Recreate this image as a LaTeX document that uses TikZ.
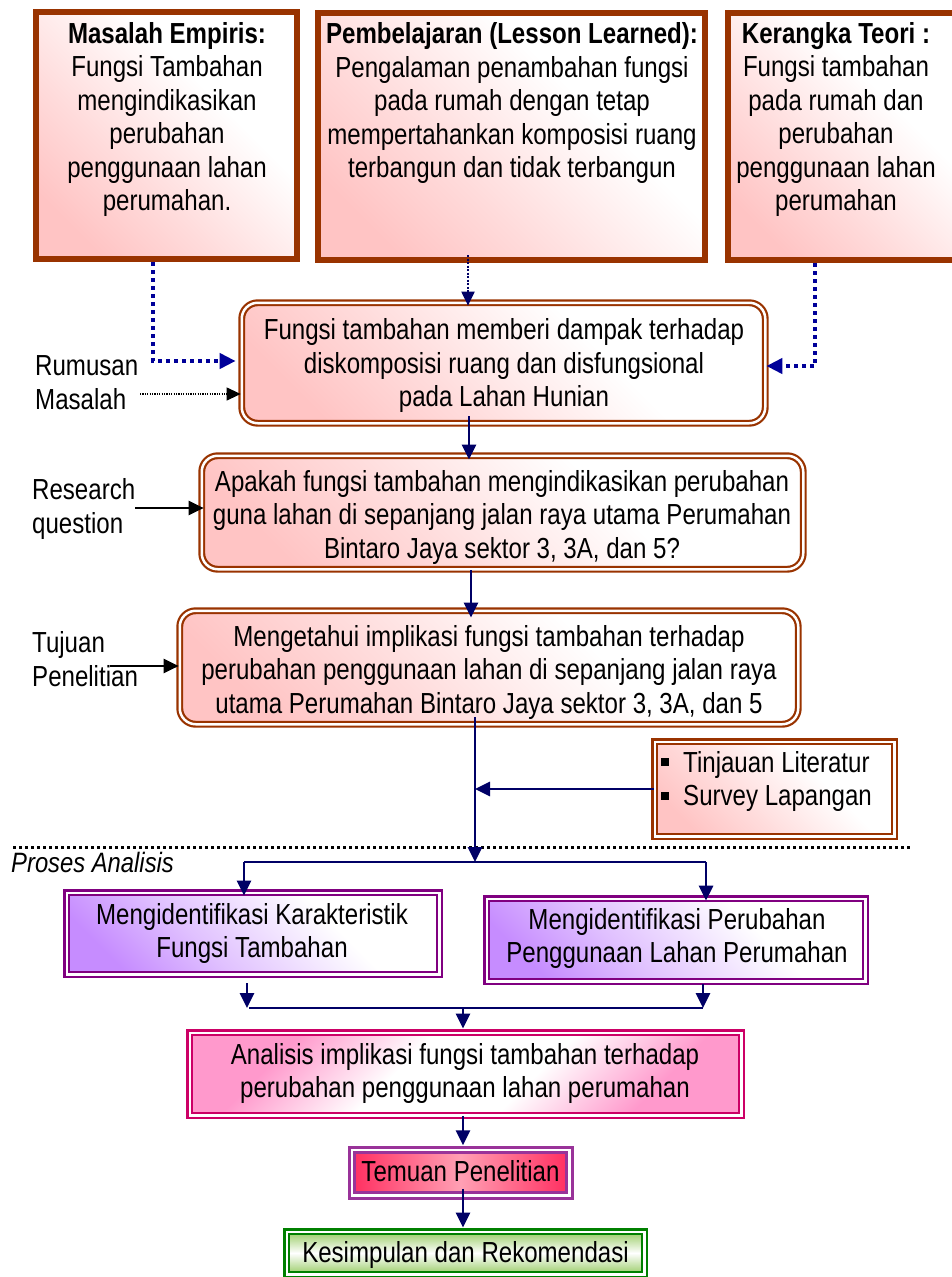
\documentclass[tikz,border=0pt]{standalone}
\usepackage{fontspec}
\setmainfont{Liberation Sans}[FakeStretch=0.83]
\newfontfamily\pafont{Liberation Sans}[FakeStretch=0.85]
\usetikzlibrary{arrows.meta}
\definecolor{brn}{HTML}{993300}
\definecolor{pinkf}{HTML}{FFC4C4}
\definecolor{navyc}{HTML}{000066}
\definecolor{blued}{HTML}{000099}
\definecolor{purp}{HTML}{800080}
\definecolor{purpf}{HTML}{C68CFF}
\definecolor{mag}{HTML}{CC0066}
\definecolor{magf}{HTML}{FF99CC}
\definecolor{tmb}{HTML}{993399}
\definecolor{tmf}{HTML}{FF2E60}
\definecolor{tmm}{HTML}{FFA0B4}
\definecolor{grn}{HTML}{008000}
\definecolor{grnf}{HTML}{99CC66}
\pgfdeclareverticalshading{pkshade}{100bp}{color(0bp)=(pinkf); color(24bp)=(pinkf); color(40bp)=(pinkf!60!white); color(62bp)=(white); color(100bp)=(white)}
\pgfdeclareverticalshading{ppshade}{100bp}{color(0bp)=(purpf); color(24bp)=(purpf); color(40bp)=(purpf!55!white); color(64bp)=(white); color(100bp)=(white)}
\pgfdeclareverticalshading{anshade}{100bp}{color(0bp)=(magf); color(27bp)=(magf); color(42bp)=(white); color(58bp)=(white); color(73bp)=(magf); color(100bp)=(magf)}
\newcommand\mfnt{\fontsize{29}{33.5}\selectfont}
\begin{document}
\begin{tikzpicture}[x=1pt,y=-1pt,
  txt/.style={align=center, font=\mfnt, inner sep=0pt},
  ltxt/.style={align=left, font=\mfnt, inner sep=0pt, anchor=west},
  topbox/.style={draw=brn, line width=6pt, inner sep=0pt, shading=pkshade, shading angle=-45},
  dbl/.style={line width=2.2pt, double=white, double distance=2.5pt, inner sep=0pt},
  rbox/.style={dbl, draw=brn, rounded corners=16pt, shading=pkshade, shading angle=-45},
  sbox/.style={dbl, draw=brn, shading=pkshade, shading angle=-45},
  pbox/.style={dbl, draw=purp, shading=ppshade, shading angle=-45},
  abox/.style={dbl, draw=mag, shading=anshade, shading angle=45},
  tbox/.style={line width=3pt, double=white, double distance=2.5pt, inner sep=0pt,
    draw=tmb, left color=tmf, right color=tmf, middle color=tmm},
  kbox/.style={dbl, draw=grn, top color=grnf, bottom color=grnf, middle color=white},
  navyarr/.style={draw=navyc, line width=2.8pt, -{Triangle[length=15pt,width=14pt]}},
  navyln/.style={draw=navyc, line width=2.8pt},
  blkarr/.style={draw=black, line width=2.2pt, -{Triangle[length=15pt,width=14pt]}},
  rumarr/.style={draw=black, line width=1.2pt, dash pattern=on 1.2pt off 1.2pt, -{Triangle[length=14pt,width=13pt]}},
  bluedot/.style={draw=blued, line width=4pt, dash pattern=on 4pt off 4pt, -{Triangle[length=16pt,width=15pt]}},
  middot/.style={draw=navyc, line width=2pt, dash pattern=on 2pt off 1.5pt, -{Triangle[length=14pt,width=13pt]}},
  sepline/.style={draw=black, line width=3pt, dash pattern=on 3pt off 3pt}
]
\useasboundingbox (0,0) rectangle (951,1277);

% ---- top boxes
\node[topbox, minimum width=261pt, minimum height=247pt] (b1) at (166.5,135.5) {};
\node[topbox, minimum width=387pt, minimum height=247pt] (b2) at (511.5,136.5) {};
\node[topbox, minimum width=232pt, minimum height=247pt] (b3) at (844,136.5) {};
\node[txt] (t1) at (167,120.5) {\strut\textbf{Masalah Empiris:}\\\strut Fungsi Tambahan\\\strut mengindikasikan\\\strut perubahan\\\strut penggunaan lahan\\\strut perumahan.};
\node[txt] (t2) at (512,104) {\strut\textbf{Pembelajaran (Lesson Learned):}\\\strut Pengalaman penambahan fungsi\\\strut pada rumah dengan tetap\\\strut mempertahankan komposisi ruang\\\strut terbangun dan tidak terbangun};
\node[txt] (t3) at (836,120.5) {\strut\textbf{Kerangka Teori :}\\\strut Fungsi tambahan\\\strut pada rumah dan\\\strut perubahan\\\strut penggunaan lahan\\\strut perumahan};

% ---- rounded boxes
\node[rbox, minimum width=523.5pt, minimum height=120.5pt] (b4) at (503.5,363) {};
\node[txt] (t4) at (504,366.5) {\strut Fungsi tambahan memberi dampak terhadap\\\strut diskomposisi ruang dan disfungsional\\\strut pada Lahan Hunian};
\node[rbox, minimum width=601.5pt, minimum height=113.5pt] (b5) at (502.5,512.5) {};
\node[txt] (t5) at (502,518) {\strut Apakah fungsi tambahan mengindikasikan perubahan\\\strut guna lahan di sepanjang jalan raya utama Perumahan\\\strut Bintaro Jaya sektor 3, 3A, dan 5?};
\node[rbox, minimum width=618.5pt, minimum height=113.5pt] (b6) at (489,667.5) {};
\node[txt] (t6) at (489,673) {\strut Mengetahui implikasi fungsi tambahan terhadap\\\strut perubahan penggunaan lahan di sepanjang jalan raya\\\strut utama Perumahan Bintaro Jaya sektor 3, 3A, dan 5};

% ---- side labels
\node[ltxt] (lrm) at (35,386) {\strut Rumusan\\\strut Masalah};
\node[ltxt] (lrq) at (32,510) {\strut Research\\\strut question};
\node[ltxt] (ltp) at (32,663) {\strut Tujuan\\\strut Penelitian};

% ---- literature box
\node[sbox, minimum width=239.5pt, minimum height=94.5pt] (tb) at (774.5,789) {};
\node[ltxt] (tt) at (661,782.5) {\strut\rule[6pt]{8pt}{8pt}\hspace{14pt}Tinjauan Literatur\\\strut\rule[6pt]{8pt}{8pt}\hspace{14pt}Survey Lapangan};

% ---- separator
\coordinate (dl) at (13,847);
\coordinate (dr) at (910,847);
\draw[sepline] (dl) -- (dr);
\node[anchor=west, inner sep=0pt, font=\pafont\itshape\fontsize{28}{32}\selectfont] (pa) at (11,866) {\strut Proses Analisis};

% ---- analysis boxes
\node[pbox, minimum width=372.5pt, minimum height=81.5pt] (b7) at (253,933.5) {};
\node[txt] (t7) at (252,934.5) {\strut Mengidentifikasi Karakteristik\\\strut Fungsi Tambahan};
\node[pbox, minimum width=378.5pt, minimum height=82.5pt] (b8) at (676,940) {};
\node[txt] (t8) at (677,939.5) {\strut Mengidentifikasi Perubahan\\\strut Penggunaan Lahan Perumahan};
\node[abox, minimum width=551.5pt, minimum height=82.5pt] (an) at (465.5,1074) {};
\node[txt] (tan) at (465,1074.5) {\strut Analisis implikasi fungsi tambahan terhadap\\\strut perubahan penggunaan lahan perumahan};
\node[tbox, minimum width=217.5pt, minimum height=45.5pt] (tm) at (460.5,1172.5) {};
\node[txt] (ttm) at (460.5,1175) {\strut Temuan Penelitian};
\node[kbox, minimum width=357.5pt, minimum height=42.5pt] (ks) at (465.5,1253) {};
\node[txt] (tks) at (465.5,1256) {\strut Kesimpulan dan Rekomendasi};

% ---- coordinates for connectors
\coordinate (k1) at (153,361);
\coordinate (k2) at (468,0);
\coordinate (k3) at (815,366);
\coordinate (c45) at (469,0);
\coordinate (c56) at (471,0);
\coordinate (rq) at (135,508);
\coordinate (tp) at (110,666);
\coordinate (rm) at (140,394);
\coordinate (sp1) at (475,862);
\coordinate (hl) at (244,862);
\coordinate (hr) at (706,862);
\coordinate (a7) at (247,0);
\coordinate (bl) at (249,1008);
\coordinate (br) at (703,1008);
\coordinate (bm) at (463,1008);

% ---- connectors
\draw[bluedot] (b1.south -| k1) |- ([xshift=-5pt]b4.west |- k1);
\draw[bluedot] (b3.south -| k3) |- (b4.east |- k3);
\draw[middot] ([yshift=8pt]b2.south -| k2) -- ([yshift=-4pt]b4.north -| k2);
\draw[rumarr] (rm) -- (rm -| b4.west);
\draw[blkarr] (rq) -- ([xshift=3pt]rq -| b5.west);
\draw[blkarr] (tp) -- (tp -| b6.west);
\draw[navyarr] ([yshift=8pt]b4.south -| c45) -- ([yshift=-5pt]b5.north -| c45);
\draw[navyarr] (b5.south -| c56) -- ([yshift=-8pt]b6.north -| c56);
\draw[navyarr] ([yshift=8pt]b6.south -| sp1) -- (sp1);
\draw[navyarr] (tb.west) -- (tb.west -| sp1);
\draw[navyln] (hl) -- (hr);
\draw[navyarr] (hl) -- ([yshift=-4pt]b7.north -| hl);
\draw[navyarr] (hr) -- ([yshift=-3pt]b8.north -| hr);
\draw[navyarr] ([yshift=-8pt]b7.south -| a7) -- (a7 |- bl);
\draw[navyln] (bl) -- (br);
\draw[navyarr] ([yshift=-2pt]b8.south -| br) -- (br);
\draw[navyarr] (bm) -- ([yshift=3pt]an.north -| bm);
\draw[navyarr] (an.south -| bm) -- ([yshift=3pt]tm.north -| bm);
\draw[navyarr] ([yshift=8pt]tm.south -| bm) -- ([yshift=3pt]ks.north -| bm);
\end{tikzpicture}
\end{document}
